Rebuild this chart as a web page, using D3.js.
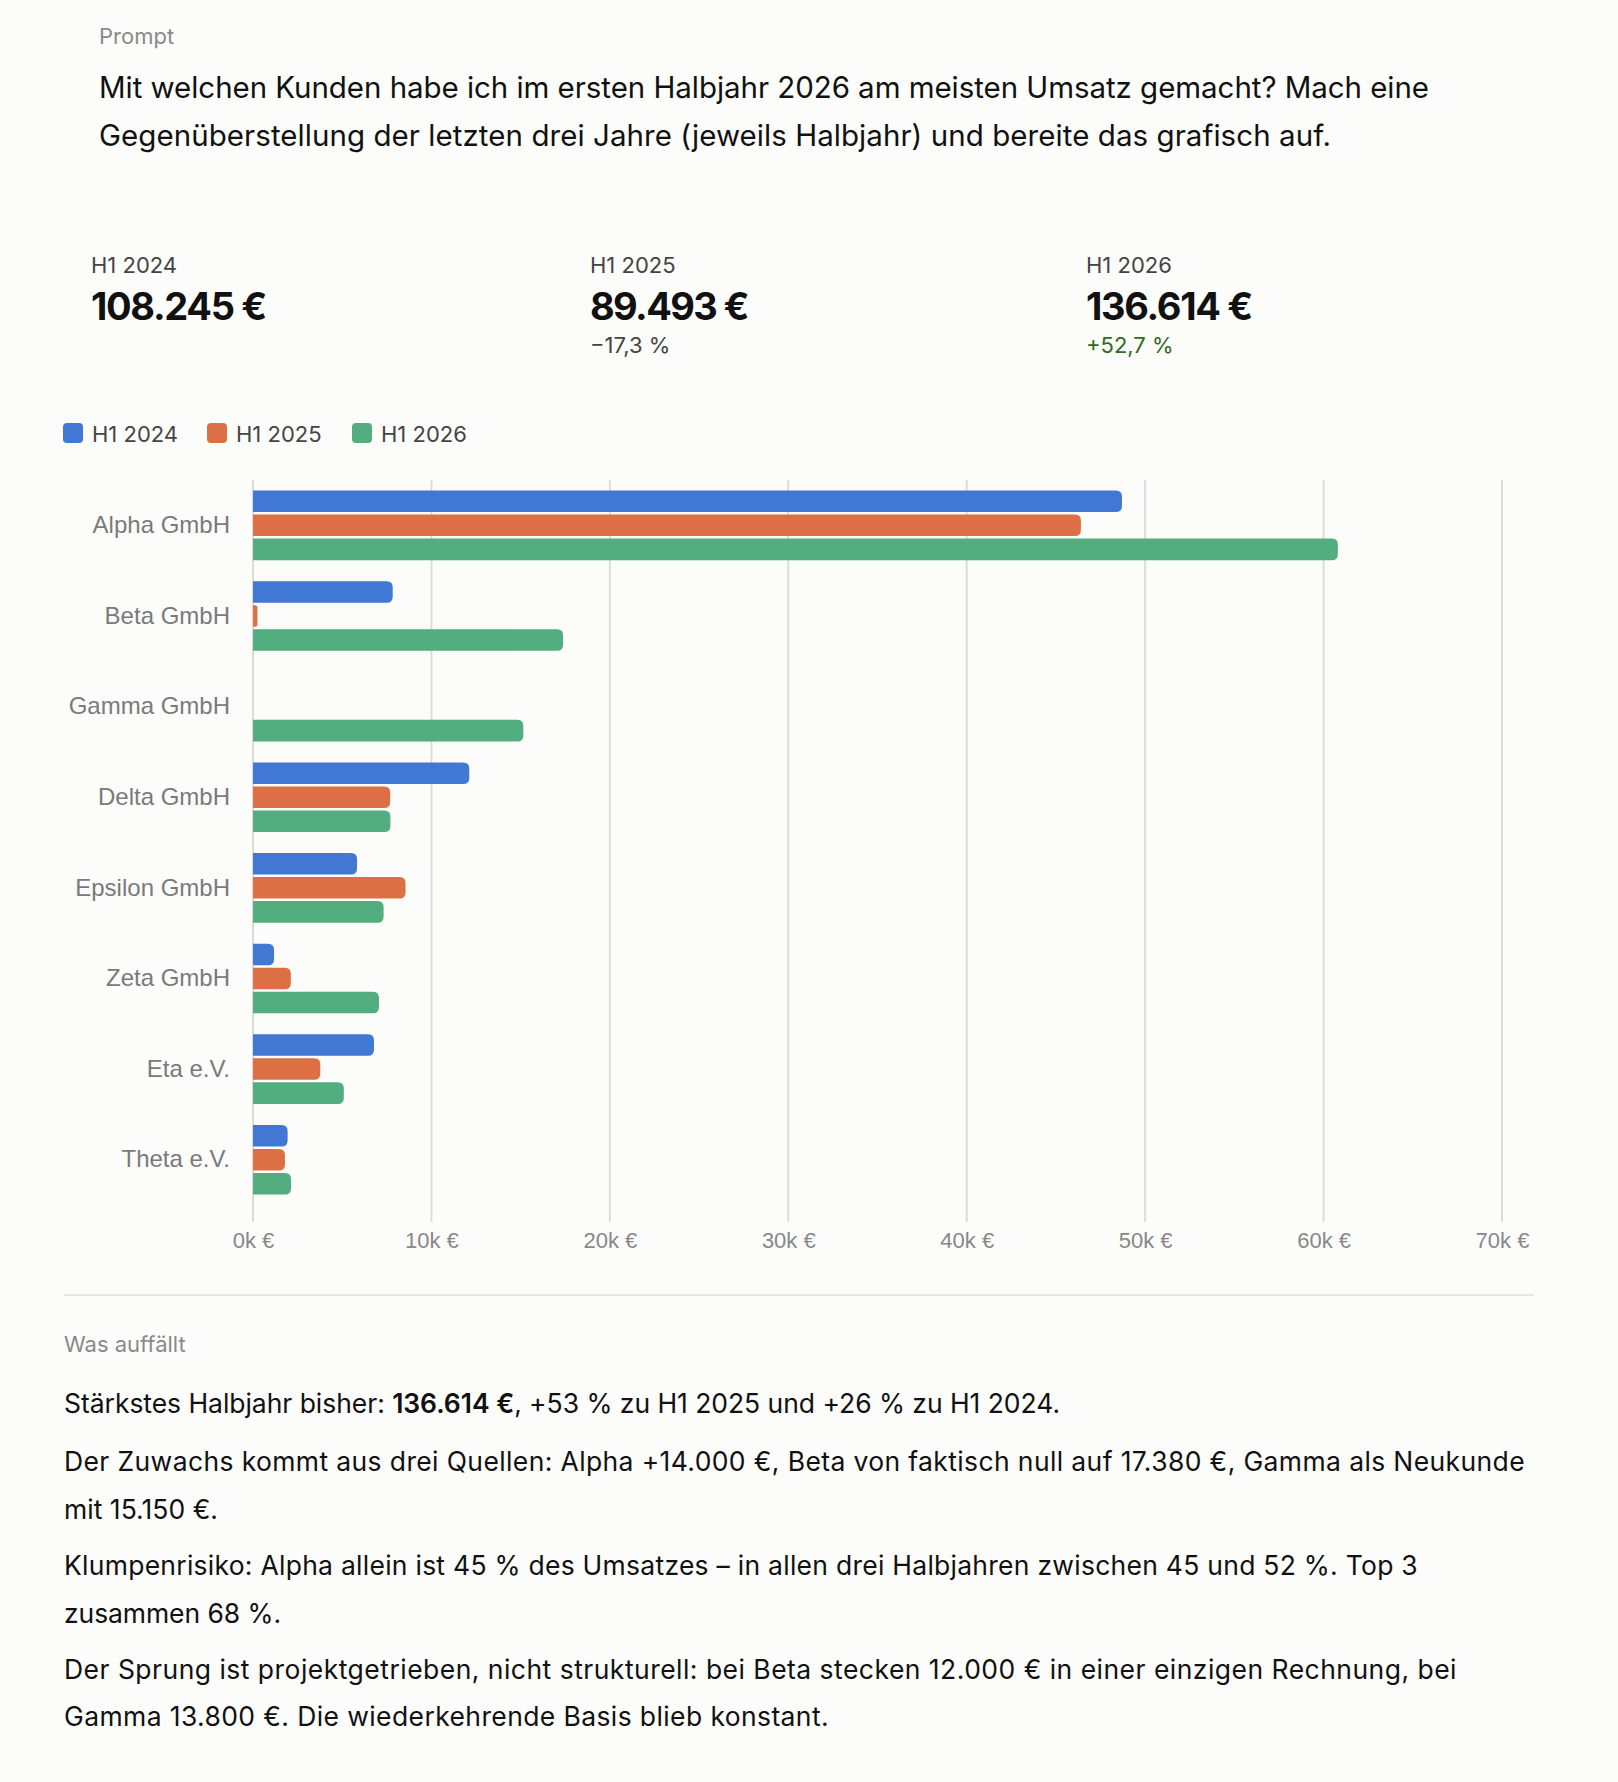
<!DOCTYPE html>
<html>
<head>
<meta charset="utf-8">
<script src="https://cdn.jsdelivr.net/npm/d3@7"></script>
<style>
  html, body { margin: 0; padding: 0; background: #fcfcfb; }
  svg { display: block; }
  .ui { font-family: Inter, "Noto Sans", sans-serif; }
</style>
</head>
<body>
<div id="page"></div>
<script>
const customers = ['Alpha GmbH', 'Beta GmbH', 'Gamma GmbH', 'Delta GmbH', 'Epsilon GmbH', 'Zeta GmbH', 'Eta e.V.', 'Theta e.V.'];
const periods = ['H1 2024', 'H1 2025', 'H1 2026'];
const h1_2024 = [48700, 7830, 0, 12120, 5830, 1180, 6780, 1940];
const h1_2025 = [46400, 250, 0, 7690, 8550, 2120, 3770, 1790];
const h1_2026 = [60800, 17380, 15150, 7700, 7320, 7060, 5090, 2130];
const xTicks = [0, 10000, 20000, 30000, 40000, 50000, 60000, 70000];

const totals = ['108.245 €', '89.493 €', '136.614 €'];
const changes = [null, '−17,3 %', '+52,7 %'];

const promptLines = [
  'Mit welchen Kunden habe ich im ersten Halbjahr 2026 am meisten Umsatz gemacht? Mach eine',
  'Gegenüberstellung der letzten drei Jahre (jeweils Halbjahr) und bereite das grafisch auf.'
];

// each line is a list of [text, bold]
const notes = [
  [[['Stärkstes Halbjahr bisher: ', false], ['136.614 €', true], [', +53 % zu H1 2025 und +26 % zu H1 2024.', false]]],
  [[['Der Zuwachs kommt aus drei Quellen: Alpha +14.000 €, Beta von faktisch null auf 17.380 €, Gamma als Neukunde', false]],
   [['mit 15.150 €.', false]]],
  [[['Klumpenrisiko: Alpha allein ist 45 % des Umsatzes – in allen drei Halbjahren zwischen 45 und 52 %. Top 3', false]],
   [['zusammen 68 %.', false]]],
  [[['Der Sprung ist projektgetrieben, nicht strukturell: bei Beta stecken 12.000 € in einer einzigen Rechnung, bei', false]],
   [['Gamma 13.800 €. Die wiederkehrende Basis blieb konstant.', false]]]
];

const colors = ['#4178d4', '#dc7044', '#54ad7f'];

const W = 1618, H = 1782;
const svg = d3.select('#page').append('svg')
    .attr('width', W)
    .attr('height', H);

svg.append('rect').attr('width', W).attr('height', H).attr('fill', '#fcfcfb');

// squeeze or stretch a text to a measured width via letter spacing
const fitWidth = (node, width) => {
    const natural = node.getComputedTextLength();
    const n = node.textContent.length;
    if (n > 1) d3.select(node).attr('letter-spacing', (width - natural) / n);
};

// prompt header
svg.append('text')
    .attr('class', 'ui')
    .attr('x', 99).attr('y', 44)
    .attr('font-size', 22).attr('fill', '#8a8a88')
    .text('Prompt');

const promptEnds = [1429, 1331];
svg.selectAll('.prompt-line')
    .data(promptLines)
    .enter().append('text')
    .attr('class', 'ui prompt-line')
    .attr('x', 99)
    .attr('y', (d, i) => 98 + i * 47.5)
    .attr('font-size', 29.5)
    .attr('fill', '#111')
    .text(d => d)
    .each(function(d, i) { fitWidth(this, promptEnds[i] - 99); });

// KPI row
const kpiX = [91, 590, 1086];
const kpiEnds = [266, 748, 1252];
const kpi = svg.selectAll('.kpi')
    .data(periods)
    .enter().append('g')
    .attr('class', 'kpi ui')
    .attr('transform', (d, i) => `translate(${kpiX[i]},0)`);

kpi.append('text')
    .attr('y', 273)
    .attr('font-size', 22)
    .attr('fill', '#444')
    .text(d => d);

kpi.append('text')
    .attr('y', 320)
    .attr('font-size', 38)
    .attr('font-weight', 700)
    .attr('fill', '#111')
    .text((d, i) => totals[i])
    .each(function(d, i) { fitWidth(this, kpiEnds[i] - kpiX[i]); });

kpi.append('text')
    .attr('y', 353)
    .attr('font-size', 22)
    .attr('fill', (d, i) => i === 2 ? '#2f6b22' : '#444')
    .text((d, i) => changes[i] || '');

// legend
const legendX = [63, 207, 352];
const legend = svg.selectAll('.legend')
    .data(periods)
    .enter().append('g')
    .attr('class', 'legend ui')
    .attr('transform', (d, i) => `translate(${legendX[i]},423)`);

legend.append('rect')
    .attr('width', 20).attr('height', 20)
    .attr('rx', 4)
    .attr('fill', (d, i) => colors[i]);

legend.append('text')
    .attr('x', 29).attr('y', 19)
    .attr('font-size', 22)
    .attr('fill', '#444')
    .text(d => d);

// chart
const x = d3.scaleLinear().domain([0, 70000]).range([253, 1502]);
const y = d3.scaleBand().domain(customers).range([480, 1205]);
const ySub = d3.scaleBand().domain(periods).range([10.5, y.bandwidth() - 10.5]).paddingInner(0.1);

svg.append('g')
    .selectAll('line')
    .data(xTicks)
    .enter().append('line')
    .attr('x1', d => x(d)).attr('x2', d => x(d))
    .attr('y1', 480).attr('y2', 1222)
    .attr('stroke', '#dcdcda')
    .attr('stroke-width', 2);

const xAxis = svg.append('g')
    .attr('transform', 'translate(0,1222)')
    .call(d3.axisBottom(x).tickValues(xTicks).tickSize(0).tickPadding(10)
        .tickFormat(d => `${d / 1000}k €`));
xAxis.select('.domain').remove();
xAxis.selectAll('text')
    .attr('font-size', 22)
    .attr('fill', '#888')
    .attr('font-family', '"Liberation Sans", Arial, sans-serif');

const yAxis = svg.append('g')
    .attr('transform', 'translate(253,0)')
    .call(d3.axisLeft(y).tickSize(0).tickPadding(23));
yAxis.select('.domain').remove();
yAxis.selectAll('text')
    .attr('font-size', 24)
    .attr('fill', '#7a7a7a')
    .attr('font-family', '"Liberation Sans", Arial, sans-serif');

// bars with rounded right end
const barPath = (x0, x1, y0, h) => {
    const w = x1 - x0;
    const r = Math.min(6, w / 2, h / 2);
    return `M${x0},${y0}H${x1 - r}Q${x1},${y0} ${x1},${y0 + r}V${y0 + h - r}Q${x1},${y0 + h} ${x1 - r},${y0 + h}H${x0}Z`;
};

const series = [h1_2024, h1_2025, h1_2026];
const bars = [];
customers.forEach((c, ci) => {
    periods.forEach((p, pi) => {
        bars.push({ customer: c, period: p, pi, value: series[pi][ci] });
    });
});

svg.append('g')
    .selectAll('path')
    .data(bars.filter(d => d.value > 0))
    .enter().append('path')
    .attr('d', d => barPath(x(0), x(d.value), y(d.customer) + ySub(d.period), ySub.bandwidth()))
    .attr('fill', d => colors[d.pi]);

// notes
svg.append('line')
    .attr('x1', 64).attr('x2', 1534)
    .attr('y1', 1295).attr('y2', 1295)
    .attr('stroke', '#e6e6e3')
    .attr('stroke-width', 2);

svg.append('text')
    .attr('class', 'ui')
    .attr('x', 64).attr('y', 1352)
    .attr('font-size', 22)
    .attr('fill', '#8a8a88')
    .text('Was auffällt');

const noteBaselines = [[1413], [1471, 1519], [1575, 1623], [1679, 1726]];
const noteEnds = [[1060], [1525, 218], [1418, 281], [1457, 829]];
notes.forEach((para, pi) => {
    para.forEach((line, li) => {
        const t = svg.append('text')
            .attr('class', 'ui')
            .attr('x', 64)
            .attr('y', noteBaselines[pi][li])
            .attr('font-size', 26.5)
            .attr('fill', '#111');
        line.forEach(([s, b]) => {
            t.append('tspan')
                .attr('font-weight', b ? 600 : 400)
                .text(s);
        });
        fitWidth(t.node(), noteEnds[pi][li] - 64);
    });
});
</script>
</body>
</html>
